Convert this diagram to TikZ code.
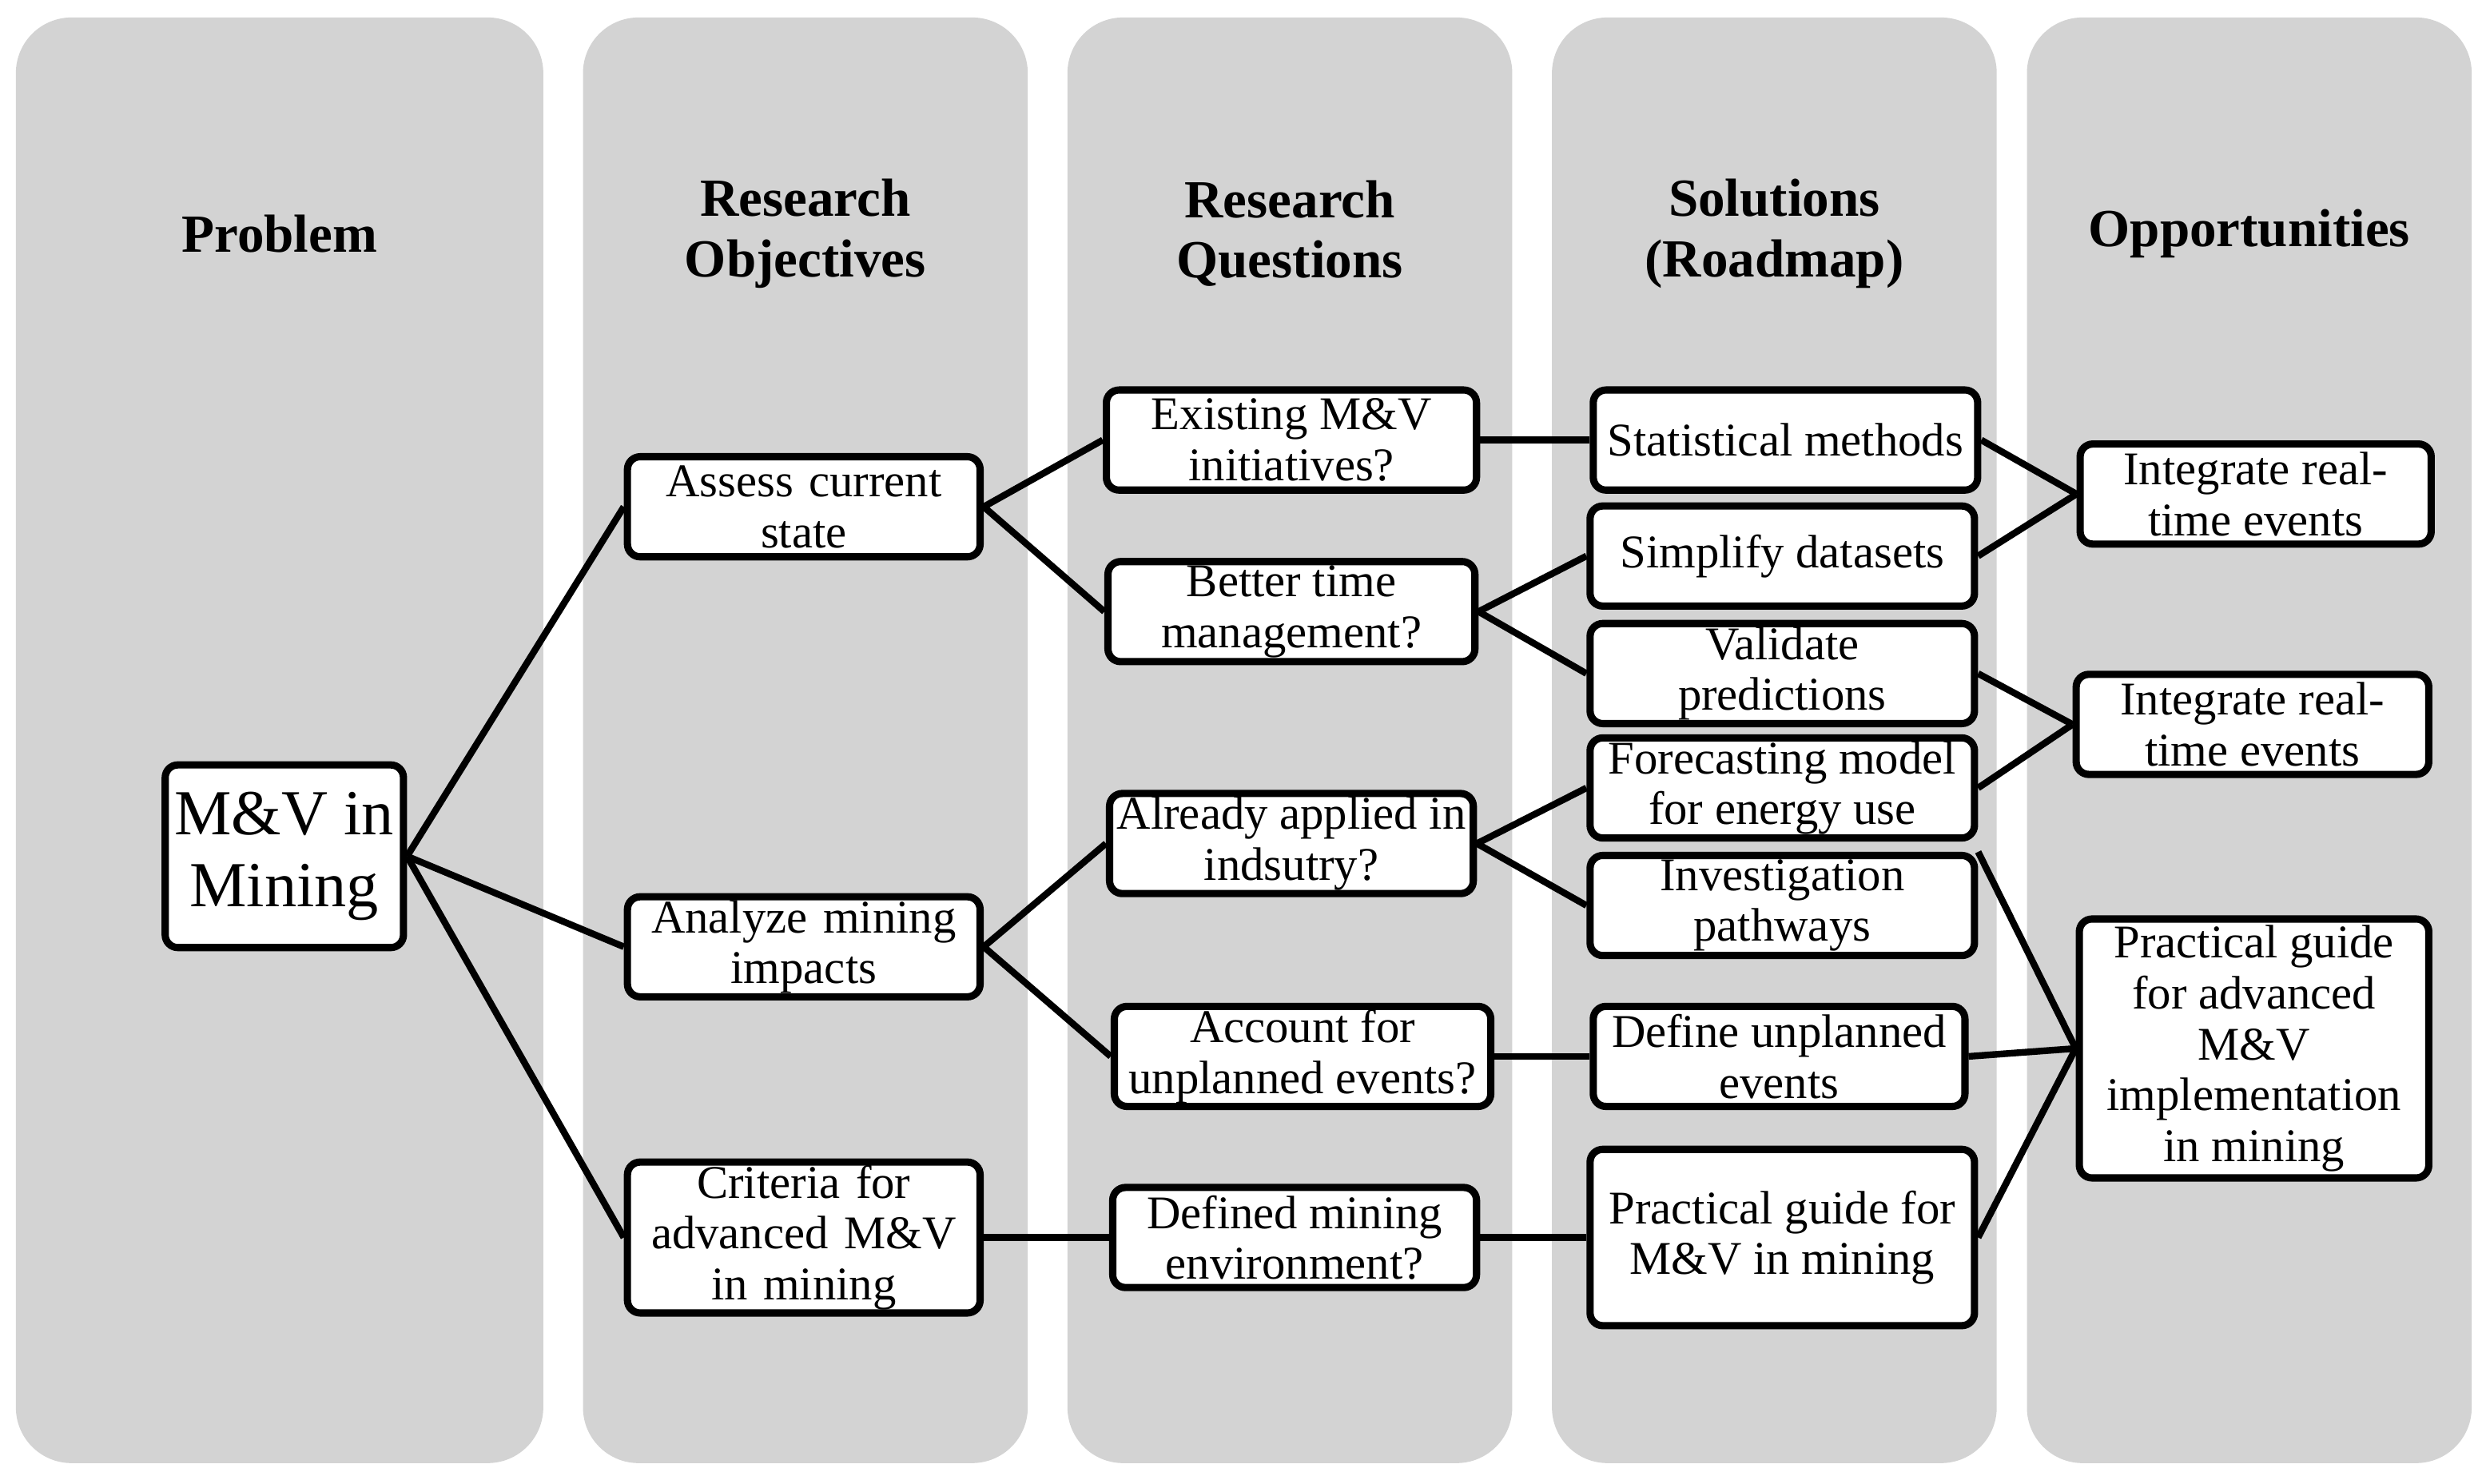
\documentclass[tikz,border=0pt]{standalone}
\usepackage{fontspec}
\setmainfont{Liberation Serif}
\usetikzlibrary{positioning}
\definecolor{lanegray}{RGB}{211,211,211}
\tikzset{
  lane/.style={fill=lanegray,draw=none,rounded corners=3.5mm},
  head/.style={font=\fontsize{9.6}{10.8}\selectfont\bfseries,align=center},
  box/.style={draw,line width=1.3pt,rounded corners=0.8mm,fill=white,align=center,
    font=\fontsize{8.4}{9.1}\selectfont,inner sep=0pt,minimum height=0.63cm},
  link/.style={line width=1.2pt}
}
\begin{document}
\begin{tikzpicture}
\useasboundingbox (0,0) rectangle (15.6,9.34);
% lanes
\fill[lane] (0.10,0.13) rectangle (3.42,9.23);
\fill[lane] (3.67,0.13) rectangle (6.47,9.23);
\fill[lane] (6.72,0.13) rectangle (9.52,9.23);
\fill[lane] (9.77,0.13) rectangle (12.57,9.23);
\fill[lane] (12.76,0.13) rectangle (15.56,9.23);
% headers
\node[head] (hp) at (1.76,7.87) {Problem};
\node[head] (hro) at (5.07,7.87) {Research\\Objectives};
\node[head] (hrq) at (8.12,7.87) {Research\\Questions};
\node[head] (hs) at (11.17,7.87) {Solutions\\(Roadmap)};
\node[head] (ho) at (14.16,7.87) {Opportunities};
% problem
\node[box,minimum width=1.5cm,minimum height=1.15cm,font=\fontsize{11.5}{12.8}\selectfont] (mv) at (1.79,3.95) {M\&V in\\Mining};
% objectives
\node[box,minimum width=2.22cm,text width=2.1cm] (ao1) at (5.06,6.15) {Assess current\\state};
\node[box,minimum width=2.22cm,text width=2.1cm] (ao2) at (5.06,3.38) {Analyze mining\\impacts};
\node[box,minimum width=2.22cm,text width=2.1cm,minimum height=0.95cm] (ao3) at (5.06,1.55) {Criteria for\\advanced M\&V\\in mining};
% questions
\node[box,minimum width=2.33cm] (q1) at (8.13,6.57) {Existing M\&V\\initiatives?};
\node[box,minimum width=2.31cm] (q2) at (8.13,5.49) {Better time\\management?};
\node[box,minimum width=2.29cm] (q3) at (8.13,4.03) {Already applied in\\indsutry?};
\node[box,minimum width=2.37cm] (q4) at (8.20,2.69) {Account for\\unplanned events?};
\node[box,minimum width=2.29cm] (q5) at (8.15,1.55) {Defined mining\\environment?};
% solutions
\node[box,minimum width=2.42cm] (s1) at (11.24,6.57) {Statistical methods};
\node[box,minimum width=2.42cm] (s2) at (11.22,5.84) {Simplify datasets};
\node[box,minimum width=2.42cm] (s3) at (11.22,5.10) {Validate\\predictions};
\node[box,minimum width=2.42cm] (s4) at (11.22,4.38) {Forecasting model\\for energy use};
\node[box,minimum width=2.42cm] (s5) at (11.22,3.64) {Investigation\\pathways};
\node[box,minimum width=2.34cm] (s6) at (11.20,2.69) {Define unplanned\\events};
\node[box,minimum width=2.42cm,minimum height=1.11cm] (s7) at (11.22,1.55) {Practical guide for\\M\&V in mining};
% opportunities
\node[box,minimum width=2.21cm] (o1) at (14.20,6.23) {Integrate real-\\time events};
\node[box,minimum width=2.22cm] (o2) at (14.18,4.78) {Integrate real-\\time events};
\node[box,minimum width=2.20cm,minimum height=1.63cm] (o3) at (14.19,2.74) {Practical guide\\for advanced\\M\&V\\implementation\\in mining};
% links
\draw[link] (mv.east) -- (ao1.west);
\draw[link] (mv.east) -- (ao2.west);
\draw[link] (mv.east) -- (ao3.west);
\draw[link] (ao1.east) -- (q1.west);
\draw[link] (ao1.east) -- (q2.west);
\draw[link] (ao2.east) -- (q3.west);
\draw[link] (ao2.east) -- (q4.west);
\draw[link] (ao3.east) -- (q5.west);
\draw[link] (q1.east) -- (s1.west);
\draw[link] (q2.east) -- (s2.west);
\draw[link] (q2.east) -- (s3.west);
\draw[link] (q3.east) -- (s4.west);
\draw[link] (q3.east) -- (s5.west);
\draw[link] (q4.east) -- (s6.west);
\draw[link] (q5.east) -- (s7.west);
\draw[link] (s1.east) -- (o1.west);
\draw[link] (s2.east) -- (o1.west);
\draw[link] (s3.east) -- (o2.west);
\draw[link] (s4.east) -- (o2.west);
\draw[link] (s5.north east) -- (o3.west);
\draw[link] (s6.east) -- (o3.west);
\draw[link] (s7.east) -- (o3.west);
\end{tikzpicture}
\end{document}
